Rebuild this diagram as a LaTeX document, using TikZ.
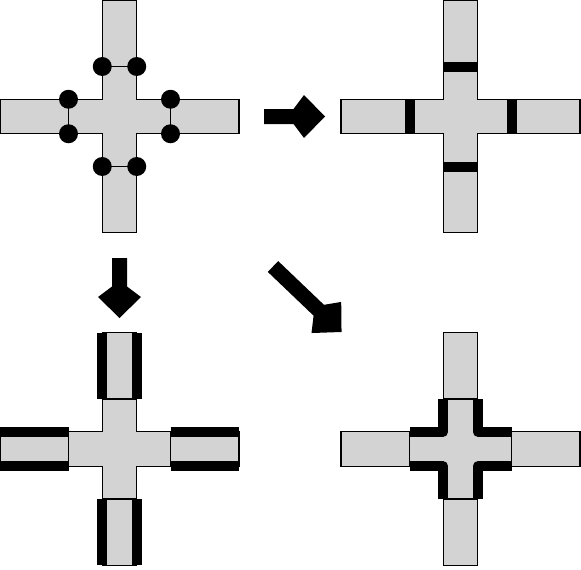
\documentclass[tikz,border=0pt]{standalone}
\usepackage{tikz}
\definecolor{armgray}{RGB}{211,211,211}
\tikzset{
  pics/crossbase/.style={code={
    \filldraw[fill=armgray,draw=black,line width=1.3pt,line join=miter]
      (-17.25,-116.25) -- (17.25,-116.25) -- (17.25,-17.25) -- (119.5,-17.25)
      -- (119.5,17.25) -- (17.25,17.25) -- (17.25,116.25) -- (-17.25,116.25)
      -- (-17.25,17.25) -- (-119.5,17.25) -- (-119.5,-17.25) -- (-17.25,-17.25) -- cycle;
  }},
  pics/blockarrow/.style={code={
    \fill[black] (0,-7.5) -- ({#1-31.5},-7.5) -- ({#1-21},-21.5) -- (#1,0)
      -- ({#1-21},21.5) -- ({#1-31.5},7.5) -- (0,7.5) -- cycle;
  }},
  seam/.style={draw=black,line width=1.3pt},
  bar/.style={draw=black,line width=10pt,line cap=butt},
  cornerbar/.style={bar,line join=round},
}

\begin{document}
\begin{tikzpicture}[x=1pt,y=-1pt]
%%
\useasboundingbox (0,0) rectangle (581,570);
\coordinate (cross_0) at (119.5,116.5);
\coordinate (cross_1) at (460.5,116.5);
\coordinate (cross_2) at (119.5,449);
\coordinate (cross_3) at (460.5,449);
%
\pic at (cross_0) {crossbase};
\begin{scope}[shift={(cross_0)}]
  \draw[seam] (-17.25,-50) -- (17.25,-50);
  \draw[seam] (-17.25,50) -- (17.25,50);
  \draw[seam] (-51,-17.25) -- (-51,17.25);
  \draw[seam] (51,-17.25) -- (51,17.25);
  \foreach \p in {(-17.25,-50),(17.25,-50),(-17.25,50),(17.25,50),
                  (-51,-17.25),(-51,17.25),(51,-17.25),(51,17.25)}
    \fill \p circle (9.5);
\end{scope}
%
\pic at (cross_1) {crossbase};
\begin{scope}[shift={(cross_1)}]
  \draw[bar] (-17.25,-50) -- (17.25,-50);
  \draw[bar] (-17.25,50) -- (17.25,50);
  \draw[bar] (-51,-17.25) -- (-51,17.25);
  \draw[bar] (51,-17.25) -- (51,17.25);
\end{scope}
%
\pic at (cross_2) {crossbase};
\begin{scope}[shift={(cross_2)}]
  \draw[seam] (-17.25,-50) -- (17.25,-50);
  \draw[seam] (-17.25,50) -- (17.25,50);
  \draw[seam] (-51,-17.25) -- (-51,17.25);
  \draw[seam] (51,-17.25) -- (51,17.25);
  \draw[bar] (-17.25,-50) -- (-17.25,-116.25);
  \draw[bar] (17.25,-50) -- (17.25,-116.25);
  \draw[bar] (-17.25,50) -- (-17.25,116.25);
  \draw[bar] (17.25,50) -- (17.25,116.25);
  \draw[bar] (-51,-17.25) -- (-119.5,-17.25);
  \draw[bar] (-51,17.25) -- (-119.5,17.25);
  \draw[bar] (51,-17.25) -- (119.5,-17.25);
  \draw[bar] (51,17.25) -- (119.5,17.25);
\end{scope}
%
\pic at (cross_3) {crossbase};
\begin{scope}[shift={(cross_3)}]
  \draw[seam] (-17.25,-50) -- (17.25,-50);
  \draw[seam] (-17.25,50) -- (17.25,50);
  \draw[seam] (-51,-17.25) -- (-51,17.25);
  \draw[seam] (51,-17.25) -- (51,17.25);
  \draw[cornerbar] (-17.25,-50) -- (-17.25,-17.25) -- (-51,-17.25);
  \draw[cornerbar] (17.25,-50) -- (17.25,-17.25) -- (51,-17.25);
  \draw[cornerbar] (-17.25,50) -- (-17.25,17.25) -- (-51,17.25);
  \draw[cornerbar] (17.25,50) -- (17.25,17.25) -- (51,17.25);
\end{scope}
%
\pic at (264,116.5) {blockarrow=61};
\pic[rotate=-90] at (119.5,258) {blockarrow=60};
\pic[rotate=-43.7] at (273,266.5) {blockarrow=94.8};
%
\end{tikzpicture}
\end{document}
